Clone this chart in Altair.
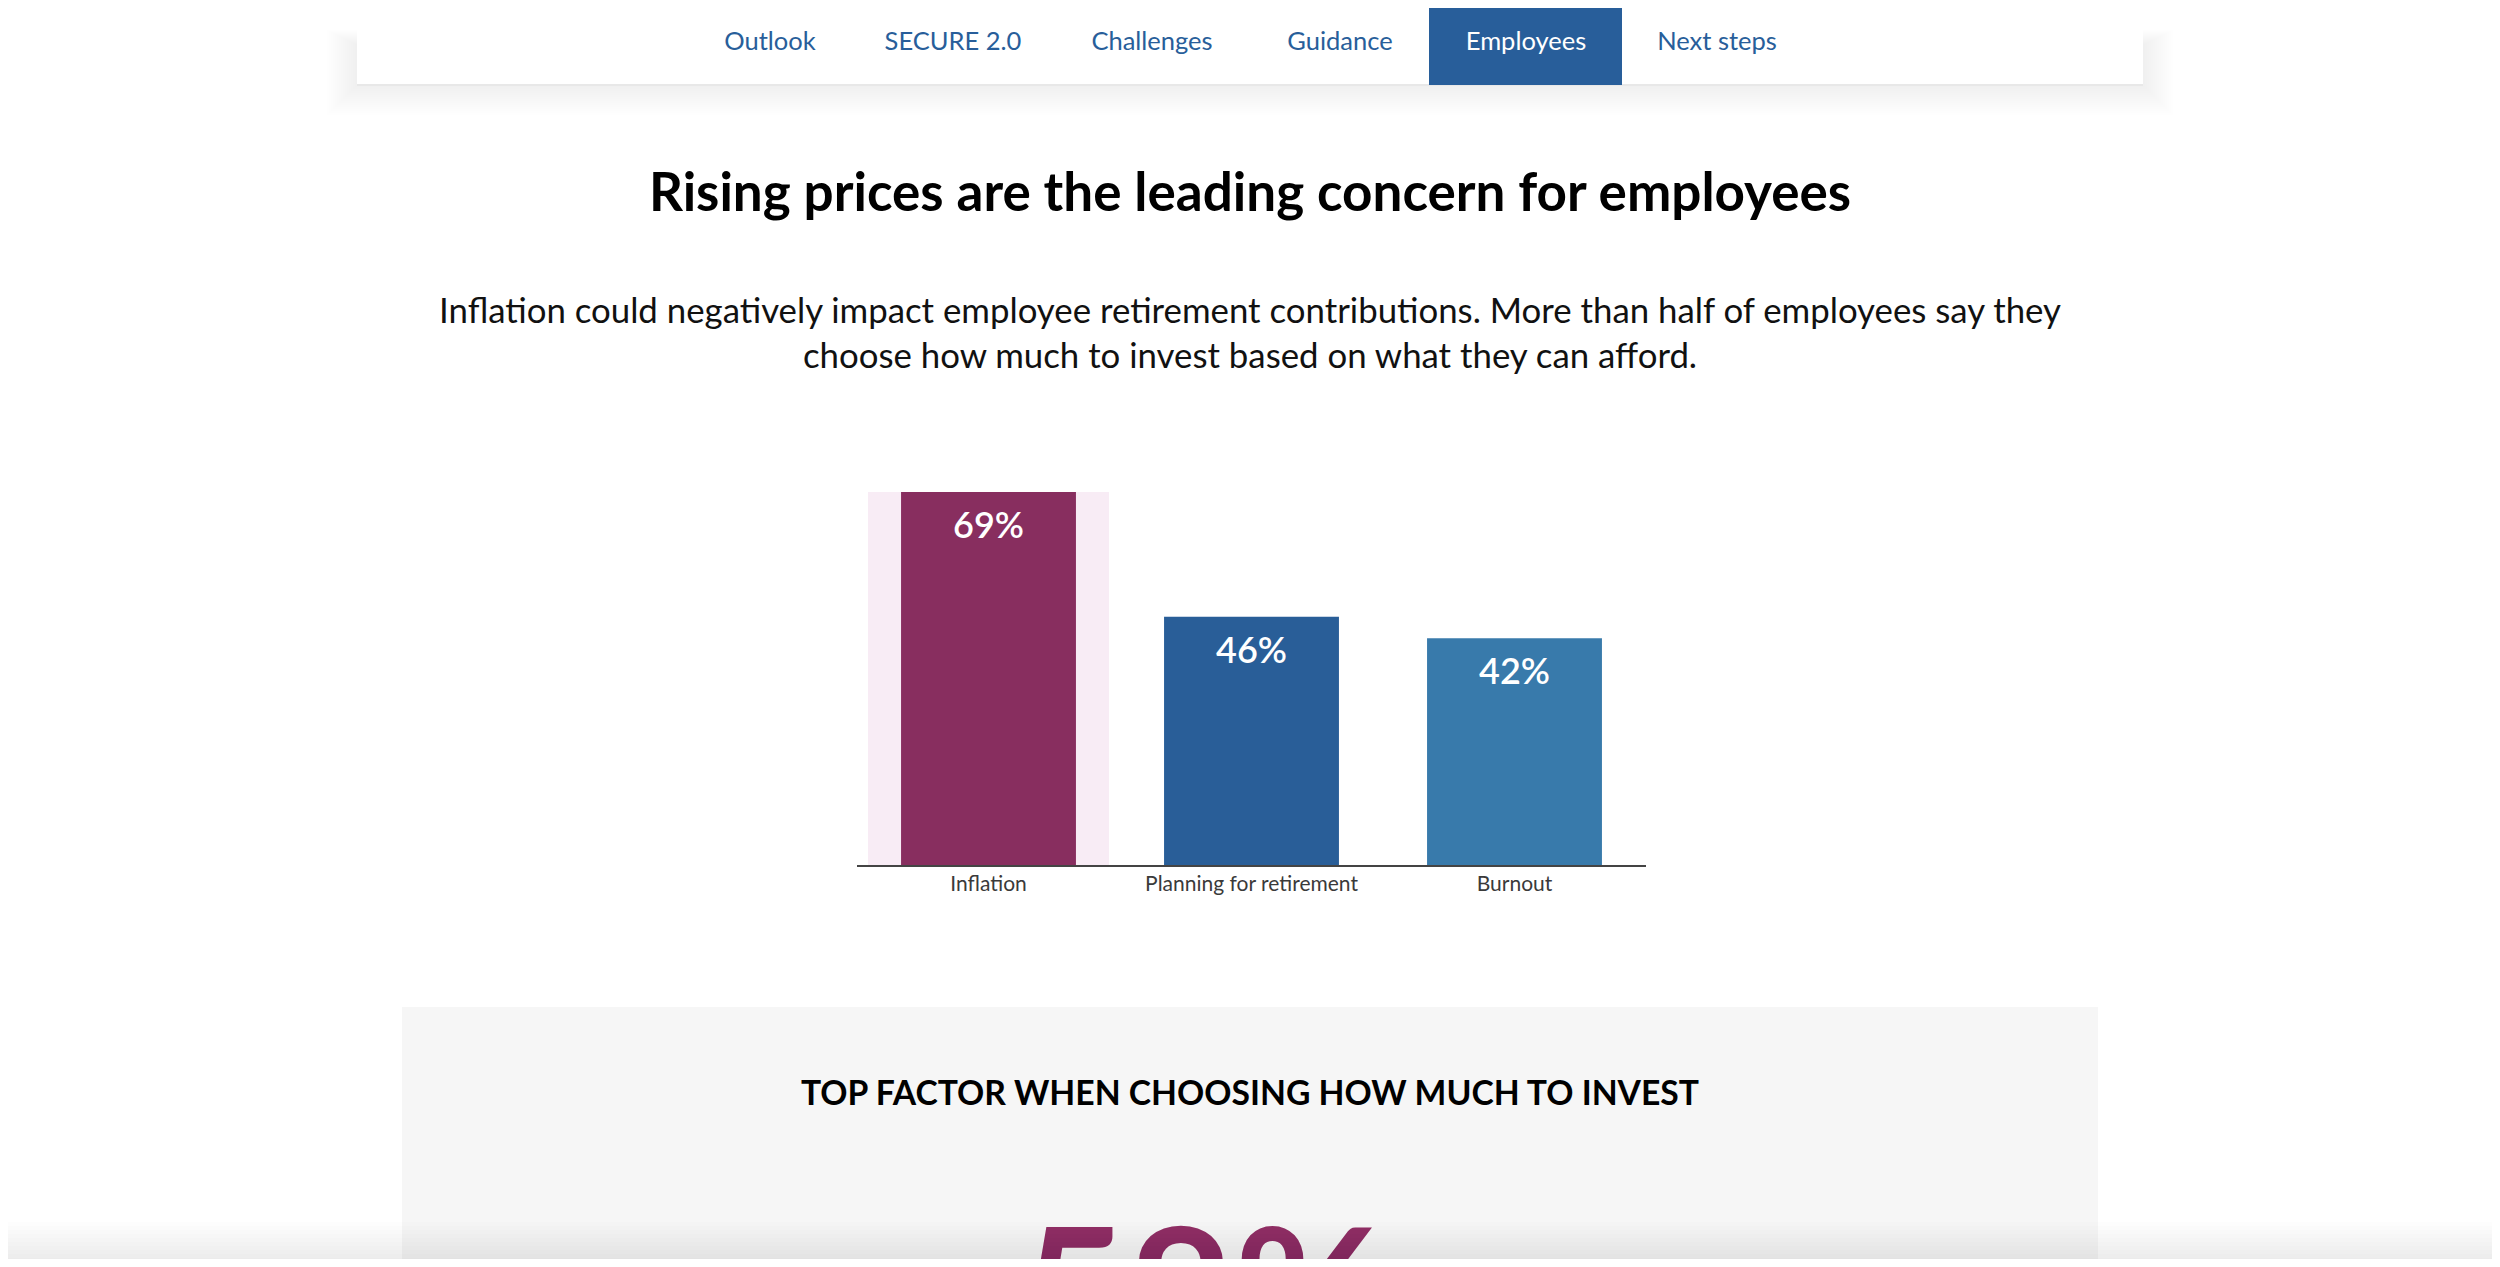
import altair as alt
import pandas as pd

# ---------------- data ----------------
categories = ["Inflation", "Planning for retirement", "Burnout"]
values = [69, 46, 42]
bar_colors = ["#882e5f", "#295e98", "#387aab"]
highlight = "Inflation"

nav_items = ["Outlook", "SECURE 2.0", "Challenges", "Guidance", "Employees", "Next steps"]
active_nav = "Employees"

title_text = "Rising prices are the leading concern for employees"
subtitle_lines = [
    "Inflation could negatively impact employee retirement contributions. More than half of employees say they",
    "choose how much to invest based on what they can afford.",
]
section_heading = "TOP FACTOR WHEN CHOOSING HOW MUCH TO INVEST"
section_stat = "58%"

# ---------------- layout helpers ----------------
W, H = 2484, 1251
M = 8
FONT = "Lato"


def px(v):
    return v - M


df = pd.DataFrame({"category": categories, "value": values,
                   "label": [f"{v}%" for v in values]})
df["bg"] = max(values)

xs = alt.Scale(domain=categories, range=[px(857), px(1646)],
               paddingInner=0.335, paddingOuter=0.1675)
ys = alt.Scale(domain=[0, max(values)], range=[px(866), px(492)], nice=False, zero=True)
X = alt.X("category:N", sort=categories, scale=xs, axis=None)


def one(text):
    return alt.Chart(pd.DataFrame({"t": [text]}))


def rect(x, x2, y, y2, color, opacity=1.0):
    return one("r").mark_rect(color=color, opacity=opacity).encode(
        x=alt.value(px(x)), x2=alt.value(px(x2)), y=alt.value(max(px(y), 0)), y2=alt.value(px(y2)))


layers = []

# lower grey section
layers.append(rect(402, 2098, 1007, 1300, "#f6f6f6"))

# nav shadow (soft)
for i in range(1, 16):
    layers.append(rect(357 - 2.0 * i, 2143 + 2.0 * i, 45 - i, 85 + 2.0 * i, "#000000", 0.0045))
# nav bar
layers.append(rect(357, 2143, 0, 85, "#ffffff"))
layers.append(rect(357, 2143, 84, 86, "#e8e8e8"))
layers.append(rect(1429, 1622, 2, 85, "#285e9a"))

nav_x = [770, 953, 1152, 1340, 1526, 1717]
for item, cx in zip(nav_items, nav_x):
    layers.append(one(item).mark_text(
        font=FONT, fontSize=25.5, baseline="alphabetic", align="center",
        color="#ffffff" if item == active_nav else "#285e9a").encode(
        text="t:N", x=alt.value(px(cx)), y=alt.value(px(50))))

# title & subtitle
layers.append(one(title_text).mark_text(
    font=FONT, fontSize=53, fontWeight="bold", color="#000000",
    align="center", baseline="alphabetic").encode(
    text="t:N", x=alt.value(px(1250)), y=alt.value(px(211))))
for line, by in zip(subtitle_lines, [323, 368]):
    layers.append(one(line).mark_text(
        font=FONT, fontSize=34.8, color="#111111",
        align="center", baseline="alphabetic").encode(
        text="t:N", x=alt.value(px(1250)), y=alt.value(px(by))))

# chart: highlight background
layers.append(alt.Chart(df[df["category"] == highlight]).mark_bar(
    width=241, color="#f8ecf5").encode(
    x=X, y=alt.Y("bg:Q", scale=ys, axis=None)))

# bars
layers.append(alt.Chart(df).mark_bar().encode(
    x=X, y=alt.Y("value:Q", scale=ys, axis=None),
    color=alt.Color("category:N", scale=alt.Scale(domain=categories, range=bar_colors), legend=None)))

# value labels
layers.append(alt.Chart(df).mark_text(
    font=FONT, fontSize=36, fontWeight=600, color="#ffffff",
    baseline="alphabetic", dy=46).encode(
    x=X, y=alt.Y("value:Q", scale=ys, axis=None), text="label:N"))

# baseline rule
layers.append(alt.Chart(df.head(1)).mark_rule(color="#444444", strokeWidth=2).encode(
    x=alt.value(px(857)), x2=alt.value(px(1646)), y=alt.datum(0)))

# category labels
layers.append(alt.Chart(df).mark_text(
    font=FONT, fontSize=21, color="#3a3a3a", baseline="alphabetic", dy=25).encode(
    x=X, y=alt.datum(0), text="category:N"))

# lower section texts
layers.append(one(section_heading).mark_text(
    font=FONT, fontSize=33.7, fontWeight="bold", color="#000000",
    align="center", baseline="alphabetic").encode(
    text="t:N", x=alt.value(px(1250)), y=alt.value(px(1105))))
layers.append(one(section_stat).mark_text(
    font=FONT, fontSize=185, fontWeight="bold", color="#922f65",
    align="left", baseline="alphabetic", clip=True).encode(
    text="t:N", x=alt.value(px(1020)), y=alt.value(px(1362))))

# bottom shadow
for i in range(10):
    layers.append(rect(0, 2500, 1222 + i * 4, 1300, "#000000", 0.009))

chart = alt.layer(*layers).properties(
    width=W, height=H, autosize=alt.AutoSizeParams(type="none"), padding=0,
    background="#ffffff"
).configure_view(stroke=None)

chart.save("out.html", embed_options={"renderer": "svg", "actions": False})
